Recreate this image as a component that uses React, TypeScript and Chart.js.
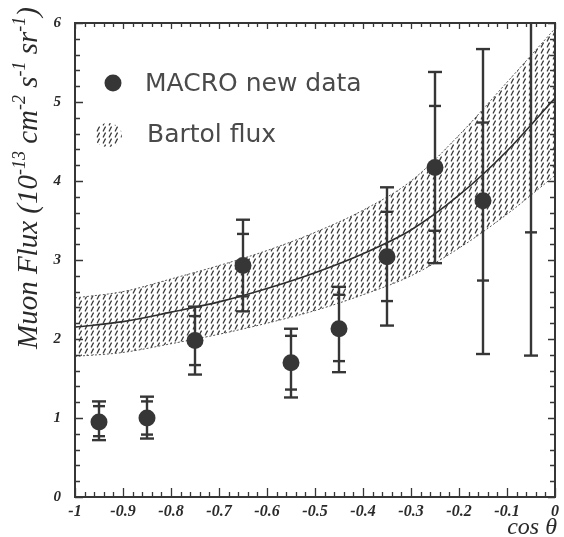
import React, { useEffect, useRef } from "react";
import { Chart, registerables } from "chart.js";

Chart.register(...registerables);

// MACRO data points
const cosTheta = [-0.95, -0.85, -0.75, -0.65, -0.55, -0.45, -0.35, -0.25, -0.15, -0.05];
const macroFlux = [0.95, 1.0, 1.98, 2.93, 1.7, 2.13, 3.04, 4.17, 3.75, 6.5];
const statLow = [0.77, 0.79, 1.67, 2.54, 1.36, 1.72, 2.48, 3.37, 2.74, 3.35];
const statHigh = [1.15, 1.21, 2.29, 3.33, 2.04, 2.56, 3.61, 4.95, 4.74, 9.0];
const totalLow = [0.72, 0.74, 1.55, 2.35, 1.26, 1.58, 2.17, 2.96, 1.81, 1.79];
const totalHigh = [1.21, 1.27, 2.41, 3.51, 2.13, 2.66, 3.92, 5.38, 5.67, 10.0];

// Bartol flux band
const bartolCos = [-1, -0.9, -0.8, -0.7, -0.6, -0.5, -0.4, -0.3, -0.2, -0.1, 0];
const bartolCentral = [2.15, 2.22, 2.34, 2.47, 2.64, 2.84, 3.08, 3.38, 3.82, 4.38, 5.05];
const bartolUpper = [2.52, 2.6, 2.76, 2.93, 3.12, 3.35, 3.63, 4.0, 4.58, 5.25, 5.93];
const bartolLower = [1.78, 1.83, 1.94, 2.06, 2.2, 2.36, 2.56, 2.8, 3.15, 3.58, 4.07];

const X_MIN = -1;
const X_MAX = 0;
const Y_MIN = 0;
const Y_MAX = 6;

const INK = "#363636";

function makeHatch(ctx: CanvasRenderingContext2D): CanvasPattern | string {
  const tile = document.createElement("canvas");
  tile.width = 6;
  tile.height = 6;
  const t = tile.getContext("2d");
  if (!t) return "#999";
  t.strokeStyle = "#3a3a3a";
  t.lineWidth = 1.3;
  t.lineCap = "round";
  t.beginPath();
  t.moveTo(1.3, 5.0);
  t.lineTo(3.3, 1.0);
  t.stroke();
  return ctx.createPattern(tile, "repeat") || "#999";
}

export default function App() {
  const ref = useRef<HTMLCanvasElement>(null);

  useEffect(() => {
    const canvas = ref.current;
    if (!canvas) return;
    const ctx = canvas.getContext("2d");
    if (!ctx) return;
    const hatch = makeHatch(ctx);

    const errorBarPlugin = {
      id: "errorBars",
      afterDatasetDraw(chart: any, args: any) {
        if (chart.data.datasets[args.index].label !== "Bartol central") return;
        const c = chart.ctx;
        const xs = chart.scales.x;
        const ys = chart.scales.y;
        const area = chart.chartArea;
        c.save();
        c.beginPath();
        c.rect(area.left, area.top, area.right - area.left, area.bottom - area.top);
        c.clip();
        c.strokeStyle = INK;
        c.lineWidth = 2.4;
        c.lineCap = "butt";
        for (let i = 0; i < cosTheta.length; i++) {
          const px = xs.getPixelForValue(cosTheta[i]);
          const yTop = ys.getPixelForValue(totalHigh[i]);
          const yBot = ys.getPixelForValue(totalLow[i]);
          c.beginPath();
          c.moveTo(px, yTop);
          c.lineTo(px, yBot);
          c.stroke();
          const caps: [number, number][] = [
            [totalHigh[i], 7],
            [totalLow[i], 7],
            [statHigh[i], 6],
            [statLow[i], 6],
          ];
          for (const [v, hw] of caps) {
            const py = ys.getPixelForValue(v);
            c.beginPath();
            c.moveTo(px - hw, py);
            c.lineTo(px + hw, py);
            c.stroke();
          }
        }
        c.restore();
      },
    };

    const framePlugin = {
      id: "frameTicks",
      afterDraw(chart: any) {
        const c = chart.ctx;
        const xs = chart.scales.x;
        const ys = chart.scales.y;
        const a = chart.chartArea;
        c.save();
        c.strokeStyle = INK;
        c.lineWidth = 1.3;
        // x ticks (bottom and top)
        for (let k = 0; k <= 50; k++) {
          const v = X_MIN + (k * (X_MAX - X_MIN)) / 50;
          const px = Math.round(xs.getPixelForValue(v)) + 0.5;
          const major = k % 5 === 0;
          const lb = major ? 9 : 5;
          const lt = major ? 6 : 4;
          c.beginPath();
          c.moveTo(px, a.bottom);
          c.lineTo(px, a.bottom - lb);
          c.moveTo(px, a.top);
          c.lineTo(px, a.top + lt);
          c.stroke();
        }
        // y ticks (left and right)
        for (let k = 0; k <= 30; k++) {
          const v = Y_MIN + (k * (Y_MAX - Y_MIN)) / 30;
          const py = Math.round(ys.getPixelForValue(v)) + 0.5;
          const major = k % 5 === 0;
          const ll = major ? 8 : 5;
          const lr = major ? 7 : 5;
          c.beginPath();
          c.moveTo(a.left, py);
          c.lineTo(a.left + ll, py);
          c.moveTo(a.right, py);
          c.lineTo(a.right - lr, py);
          c.stroke();
        }
        // frame
        c.lineWidth = 2;
        c.strokeRect(a.left, a.top, a.right - a.left, a.bottom - a.top);

        // axis titles
        c.fillStyle = "#2a2a2a";
        c.font = 'italic 24px "Liberation Serif", serif';
        c.textAlign = "right";
        c.textBaseline = "alphabetic";
        c.fillText("cos \u03b8", 557, 534);

        const segs: [string, boolean][] = [
          ["Muon Flux (10", false],
          ["-13", true],
          [" cm", false],
          ["-2", true],
          [" s", false],
          ["-1", true],
          [" sr", false],
          ["-1", true],
          [")", false],
        ];
        const mainFont = 'italic 29px "Liberation Serif", serif';
        const supFont = 'italic 18px "Liberation Serif", serif';
        let total = 0;
        for (const [s, sup] of segs) {
          c.font = sup ? supFont : mainFont;
          total += c.measureText(s).width;
        }
        c.save();
        c.translate(27, 178);
        c.rotate(-Math.PI / 2);
        c.textAlign = "left";
        let x = -total / 2;
        for (const [s, sup] of segs) {
          c.font = sup ? supFont : mainFont;
          c.fillText(s, x, sup ? -2 : 10);
          x += c.measureText(s).width;
        }
        c.restore();

        // legend
        c.fillStyle = INK;
        c.beginPath();
        c.arc(113, 83, 8.5, 0, Math.PI * 2);
        c.fill();
        c.font = '25px "DejaVu Sans", sans-serif';
        c.fillStyle = "#4a4a4a";
        c.textAlign = "left";
        c.textBaseline = "middle";
        c.fillText("MACRO new data", 145, 84);
        c.fillText("Bartol flux", 147, 135);
        c.save();
        c.beginPath();
        c.ellipse(108, 135, 14, 12, 0, 0, Math.PI * 2);
        c.clip();
        c.fillStyle = hatch;
        c.fillRect(92, 121, 32, 28);
        c.restore();
        c.restore();
      },
    };

    const chart = new Chart(canvas, {
      type: "line",
      data: {
        datasets: [
          {
            label: "Bartol upper",
            data: bartolCos.map((x, i) => ({ x, y: bartolUpper[i] })),
            borderColor: "#555",
            borderWidth: 1,
            borderDash: [2, 2],
            pointRadius: 0,
            cubicInterpolationMode: "monotone",
            fill: "+1",
            backgroundColor: hatch as any,
            order: 4,
          },
          {
            label: "Bartol lower",
            data: bartolCos.map((x, i) => ({ x, y: bartolLower[i] })),
            borderColor: "#555",
            borderWidth: 1,
            borderDash: [2, 2],
            pointRadius: 0,
            cubicInterpolationMode: "monotone",
            fill: false,
            order: 3,
          },
          {
            label: "Bartol central",
            data: bartolCos.map((x, i) => ({ x, y: bartolCentral[i] })),
            borderColor: "#2e2e2e",
            borderWidth: 1.6,
            pointRadius: 0,
            cubicInterpolationMode: "monotone",
            fill: false,
            order: 2,
          },
          {
            label: "MACRO new data",
            data: cosTheta.map((x, i) => ({ x, y: macroFlux[i] })),
            showLine: false,
            pointRadius: 8.5,
            pointBackgroundColor: INK,
            pointBorderColor: INK,
            pointBorderWidth: 0,
            fill: false,
            order: 1,
          },
        ],
      },
      options: {
        animation: false,
        responsive: false,
        maintainAspectRatio: false,
        events: [],
        layout: { padding: { top: 12, right: 4, left: 0, bottom: 0 } },
        plugins: {
          legend: { display: false },
          tooltip: { enabled: false },
          title: { display: false },
        },
        scales: {
          x: {
            type: "linear",
            min: X_MIN,
            max: X_MAX,
            border: { display: false },
            grid: { display: false, drawTicks: false },
            ticks: {
              stepSize: 0.1,
              autoSkip: false,
              maxRotation: 0,
              padding: 5,
              color: "#2a2a2a",
              font: { family: '"Liberation Serif", serif', size: 16, style: "italic", weight: "bold" },
              callback: (v: any) => {
                const r = Math.round(Number(v) * 10) / 10;
                return r === 0 ? "0" : String(r);
              },
            },
            afterFit: (scale: any) => {
              scale.height = 40;
            },
          },
          y: {
            type: "linear",
            min: Y_MIN,
            max: Y_MAX,
            border: { display: false },
            grid: { display: false, drawTicks: false },
            ticks: {
              stepSize: 1,
              padding: 14,
              color: "#2a2a2a",
              font: { family: '"Liberation Serif", serif', size: 15, style: "italic", weight: "bold" },
              callback: (v: any) => String(Math.round(Number(v))),
            },
            afterFit: (scale: any) => {
              scale.width = 75;
            },
          },
        },
      },
      plugins: [errorBarPlugin, framePlugin],
    } as any);

    return () => {
      chart.destroy();
    };
  }, []);

  return (
    <div style={{ position: "absolute", left: 0, top: 0, width: 564, height: 537, background: "#fff" }}>
      <canvas ref={ref} width={564} height={537} style={{ display: "block" }} />
    </div>
  );
}
